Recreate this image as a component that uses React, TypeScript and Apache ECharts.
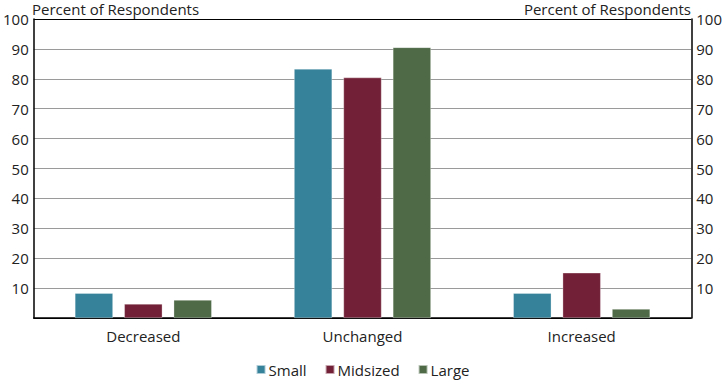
import React, { useEffect, useRef } from "react";
import * as echarts from "echarts";

const categories = ["Decreased", "Unchanged", "Increased"];
const smallValues = [8.3, 83.3, 8.3];
const midsizedValues = [4.7, 80.4, 15.1];
const largeValues = [6.0, 90.5, 3.0];
const seriesNames = ["Small", "Midsized", "Large"];
const axisTitle = "Percent of Respondents";

const FONT = "'Open Sans', sans-serif";
const TEXT = "#222";

export default function App() {
  const ref = useRef<HTMLDivElement>(null);
  useEffect(() => {
    if (!ref.current) return;
    const chart = echarts.init(ref.current, undefined, { renderer: "svg" });
    const splitColors = ["#000"].concat(Array(9).fill("#9a9a9a")).concat(["#000"]);
    const yAxisBase = (position: "left" | "right") => ({
      type: "value" as const,
      position,
      min: 0,
      max: 100,
      interval: 10,
      axisLine: { show: true, lineStyle: { color: "#000", width: 1.5 } },
      axisTick: { show: false },
      splitLine: { show: position === "left", lineStyle: { color: splitColors, width: 1 } },
      axisLabel: {
        color: TEXT,
        fontFamily: FONT,
        fontSize: 15,
        margin: 5,
        formatter: (v: number) => (v === 0 ? "" : String(v)),
      },
    });
    chart.setOption({
      animation: false,
      textStyle: { fontFamily: FONT },
      grid: { left: 30, right: 30, top: 19, bottom: 65, containLabel: false },
      legend: {
        bottom: 1,
        left: "center",
        itemWidth: 9,
        itemHeight: 9,
        itemGap: 18,
        icon: "rect",
        textStyle: { color: TEXT, fontFamily: FONT, fontSize: 15, padding: [0, 0, 0, -2] },
        data: seriesNames,
      },
      xAxis: {
        type: "category",
        data: categories,
        axisLine: { show: true, lineStyle: { color: "#000", width: 1.5 } },
        axisTick: { show: false },
        axisLabel: { color: TEXT, fontFamily: FONT, fontSize: 15, margin: 10 },
      },
      yAxis: [yAxisBase("left"), yAxisBase("right")],
      graphic: [
        {
          type: "text",
          left: 32,
          top: 1,
          style: { text: axisTitle, fill: TEXT, font: `15px ${FONT}` },
        },
        {
          type: "text",
          right: 34,
          top: 1,
          style: { text: axisTitle, fill: TEXT, font: `15px ${FONT}` },
        },
      ],
      series: [
        { name: seriesNames[0], data: smallValues, color: "#35829a" },
        { name: seriesNames[1], data: midsizedValues, color: "#722037" },
        { name: seriesNames[2], data: largeValues, color: "#4e6a46" },
      ].map((s) => ({
        type: "bar",
        name: s.name,
        data: s.data,
        barWidth: 38,
        barGap: "30%",
        itemStyle: { color: s.color, borderColor: "rgba(255,255,255,0.6)", borderWidth: 0.5 },
      })),
    });
    return () => chart.dispose();
  }, []);
  return (
    <div
      ref={ref}
      style={{ position: "fixed", left: 0, top: 0, width: 725, height: 383, background: "#fff" }}
    />
  );
}
